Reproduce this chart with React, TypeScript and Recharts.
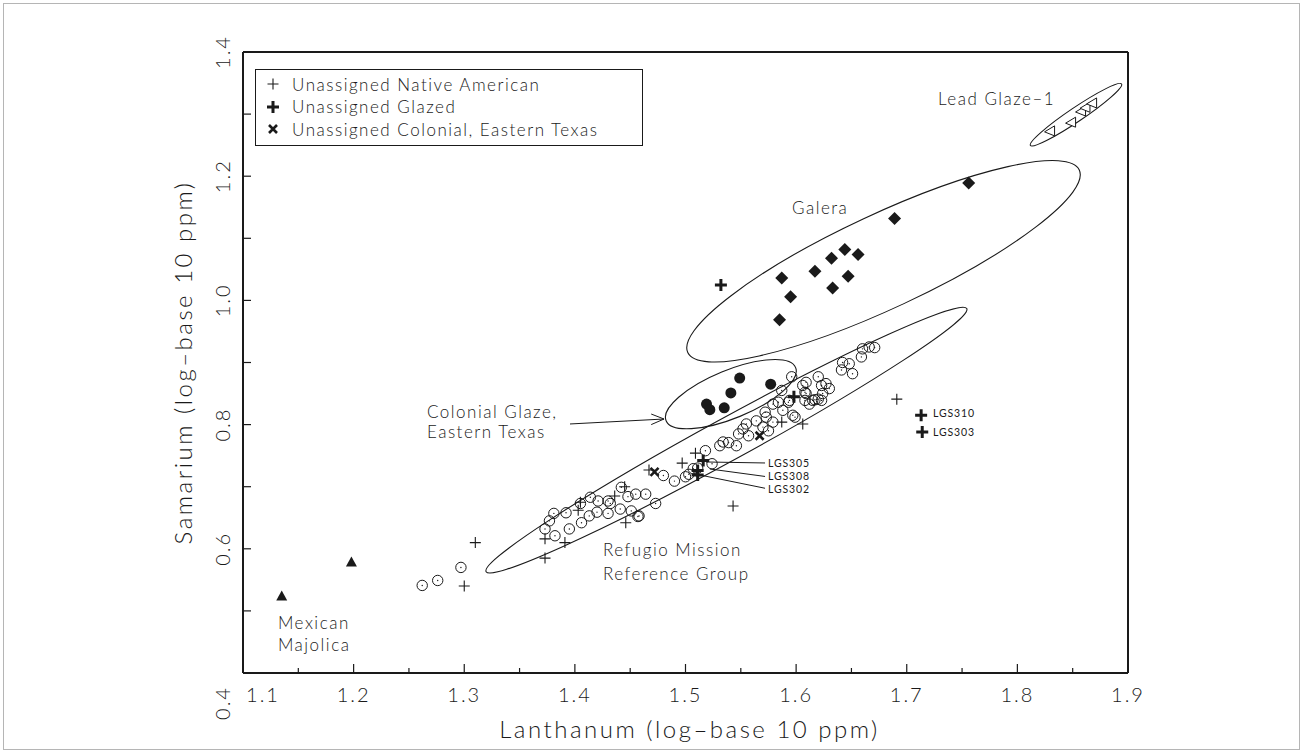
import React from 'react';
import { ScatterChart, Scatter, XAxis, YAxis, ReferenceLine, Legend } from 'recharts';

type Pt = [number, number];

// Lanthanum (x) / Samarium (y), log-base 10 ppm
const refugio: Pt[] = [
  [1.262, 0.541], [1.276, 0.549], [1.297, 0.570],
  [1.381, 0.657], [1.377, 0.645], [1.373, 0.632], [1.382, 0.621], [1.395, 0.632], [1.406, 0.642],
  [1.413, 0.653], [1.405, 0.673], [1.414, 0.683], [1.421, 0.677], [1.420, 0.659], [1.430, 0.657],
  [1.432, 0.673], [1.441, 0.664], [1.451, 0.661], [1.457, 0.652], [1.442, 0.699], [1.455, 0.688],
  [1.464, 0.688], [1.448, 0.684], [1.473, 0.673], [1.480, 0.718], [1.490, 0.709], [1.503, 0.720],
  [1.507, 0.729], [1.518, 0.758], [1.524, 0.737], [1.531, 0.766], [1.539, 0.771], [1.546, 0.766],
  [1.548, 0.785], [1.552, 0.793], [1.557, 0.782], [1.564, 0.806], [1.573, 0.812], [1.575, 0.790],
  [1.572, 0.820], [1.584, 0.836], [1.587, 0.855], [1.588, 0.823], [1.594, 0.839], [1.599, 0.812],
  [1.579, 0.804], [1.534, 0.772], [1.555, 0.801], [1.570, 0.796], [1.579, 0.833], [1.593, 0.836],
  [1.606, 0.863], [1.608, 0.839], [1.615, 0.839], [1.620, 0.841], [1.627, 0.866], [1.609, 0.850],
  [1.624, 0.850], [1.660, 0.922], [1.666, 0.925], [1.671, 0.924], [1.659, 0.909], [1.642, 0.900],
  [1.648, 0.898], [1.641, 0.888], [1.651, 0.882], [1.596, 0.877], [1.609, 0.868], [1.620, 0.877],
  [1.623, 0.863], [1.630, 0.858], [1.608, 0.852], [1.617, 0.840], [1.623, 0.839], [1.612, 0.833],
  [1.597, 0.815], [1.430, 0.677], [1.458, 0.653], [1.392, 0.658], [1.500, 0.716], [1.511, 0.730],
];
const colonialGlaze: Pt[] = [
  [1.519, 0.833], [1.522, 0.824], [1.535, 0.827], [1.541, 0.851], [1.549, 0.875], [1.577, 0.865],
];
const galera: Pt[] = [
  [1.587, 1.036], [1.595, 1.006], [1.585, 0.969], [1.617, 1.047], [1.632, 1.068], [1.644, 1.082],
  [1.656, 1.074], [1.647, 1.039], [1.633, 1.020], [1.689, 1.132], [1.756, 1.189],
];
const majolica: Pt[] = [[1.135, 0.523], [1.198, 0.578]];
const leadGlaze: Pt[] = [[1.830, 1.273], [1.849, 1.287], [1.858, 1.305], [1.862, 1.311], [1.868, 1.318]];
const nativeAmerican: Pt[] = [
  [1.310, 0.610], [1.300, 0.540], [1.373, 0.616], [1.391, 0.610], [1.373, 0.585], [1.403, 0.662],
  [1.405, 0.675], [1.446, 0.642], [1.445, 0.700], [1.467, 0.727], [1.497, 0.738], [1.509, 0.754],
  [1.543, 0.669], [1.587, 0.804], [1.606, 0.801], [1.691, 0.841], [1.436, 0.685],
];
const glazed: Pt[] = [
  [1.532, 1.025], [1.516, 0.742], [1.511, 0.726], [1.511, 0.719], [1.598, 0.845], [1.713, 0.815], [1.714, 0.788],
];
const colonialTexas: Pt[] = [[1.472, 0.724], [1.567, 0.782]];

// group ellipse centres
const ellipseNames = ['Refugio', 'Colonial', 'Galera', 'Lead'];
const ellipseCentres: Pt[] = [[1.537, 0.775], [1.541, 0.849], [1.679, 1.063], [1.853, 1.299]];

const xTicks = [1.1, 1.15, 1.2, 1.25, 1.3, 1.35, 1.4, 1.45, 1.5, 1.55, 1.6, 1.65, 1.7, 1.75, 1.8, 1.85, 1.9];
const yTicks = [0.4, 0.5, 0.6, 0.7, 0.8, 0.9, 1.0, 1.1, 1.2, 1.3, 1.4];

const notes = [
  { x: 1.7283, y: 1.3259, text: 'Lead Glaze–1' },
  { x: 1.5963, y: 1.1504, text: 'Galera' },
  { x: 1.2663, y: 0.8203, text: 'Colonial Glaze,' },
  { x: 1.2663, y: 0.7881, text: 'Eastern Texas' },
  { x: 1.4254, y: 0.5981, text: 'Refugio Mission' },
  { x: 1.4254, y: 0.5610, text: 'Reference Group' },
  { x: 1.1316, y: 0.4821, text: 'Mexican' },
  { x: 1.1316, y: 0.4451, text: 'Majolica' },
];
const sampleNotes = [
  { x: 1.5746, y: 0.7375, text: 'LGS305' },
  { x: 1.5746, y: 0.7165, text: 'LGS308' },
  { x: 1.5746, y: 0.6960, text: 'LGS302' },
  { x: 1.7237, y: 0.8187, text: 'LGS310' },
  { x: 1.7237, y: 0.7881, text: 'LGS303' },
];
const leaders: [Pt, Pt][] = [
  [[1.5185, 0.7398], [1.5719, 0.7382]],
  [[1.5221, 0.7285], [1.5719, 0.7165]],
  [[1.5131, 0.7188], [1.5719, 0.6975]],
  [[1.3956, 0.8010], [1.4806, 0.8090]],
  [[1.4806, 0.8090], [1.4690, 0.8170]],
  [[1.4806, 0.8090], [1.4690, 0.8000]],
];

const FONT = "Lato, 'DejaVu Sans', sans-serif";
const INK = '#1a1a1a';
const ELLIPSE_SIZE: Record<string, { rx: number; ry: number; angle: number }> = {
  Refugio: { rx: 274, ry: 21, angle: -28.7 },
  Colonial: { rx: 70, ry: 24, angle: -22.3 },
  Galera: { rx: 216, ry: 47, angle: -25 },
  Lead: { rx: 55, ry: 7, angle: -34 },
};

const toPts = (a: Pt[]) => a.map(([x, y]) => ({ x, y }));
const isMajor = (v: number) => Math.abs(v * 10 - Math.round(v * 10)) < 1e-6;

const OpenCircle = (p: any) => (
  <g>
    <circle cx={p.cx} cy={p.cy} r={5.2} fill="none" stroke={INK} strokeWidth={1} />
    <circle cx={p.cx} cy={p.cy} r={0.7} fill={INK} />
  </g>
);
const Dot = (p: any) => <circle cx={p.cx} cy={p.cy} r={5.5} fill={INK} />;
const Diamond = (p: any) => (
  <path d={`M${p.cx},${p.cy - 6.5}L${p.cx + 6.5},${p.cy}L${p.cx},${p.cy + 6.5}L${p.cx - 6.5},${p.cy}Z`} fill={INK} />
);
const UpTriangle = (p: any) => (
  <path d={`M${p.cx},${p.cy - 6}L${p.cx + 5.5},${p.cy + 4}L${p.cx - 5.5},${p.cy + 4}Z`} fill={INK} />
);
const LeftTriangle = (p: any) => (
  <path d={`M${p.cx - 6},${p.cy + 1}L${p.cx + 4},${p.cy - 5}L${p.cx + 4},${p.cy + 5}Z`} fill="#fff" stroke={INK} strokeWidth={1} />
);
const Plus = (p: any, arm: number, w: number) => (
  <path d={`M${p.cx - arm},${p.cy}H${p.cx + arm}M${p.cx},${p.cy - arm}V${p.cy + arm}`} stroke={INK} strokeWidth={w} />
);
const ThinPlus = (p: any) => Plus(p, 5.5, 1.1);
const BoldPlus = (p: any) => Plus(p, 6, 3);
const Cross = (p: any) => (
  <path d={`M${p.cx - 4},${p.cy - 4}L${p.cx + 4},${p.cy + 4}M${p.cx + 4},${p.cy - 4}L${p.cx - 4},${p.cy + 4}`} stroke={INK} strokeWidth={2.6} />
);
const EllipseShape = (p: any) => {
  const s = ELLIPSE_SIZE[p.payload.name];
  return (
    <ellipse cx={p.cx} cy={p.cy} rx={s.rx} ry={s.ry} transform={`rotate(${s.angle} ${p.cx} ${p.cy})`}
      fill="none" stroke={INK} strokeWidth={1.1} />
  );
};
const NoteShape = (p: any) => (
  <text x={p.cx} y={p.cy} dominantBaseline="central" fontFamily={FONT} fontWeight={300} fontSize={17}
    letterSpacing={1.5} fill={INK}>{p.payload.text}</text>
);
const SmallNoteShape = (p: any) => (
  <text x={p.cx} y={p.cy} dominantBaseline="central" fontFamily={FONT} fontWeight={400} fontSize={10.5}
    letterSpacing={0.9} fill={INK}>{p.payload.text}</text>
);

const txt = { fontFamily: FONT, fontWeight: 300, fill: INK } as const;

const BottomTick = (p: any) => {
  const v = p.payload.value;
  const major = isMajor(v);
  return (
    <g>
      <line x1={p.x} y1={p.y} x2={p.x} y2={p.y - (major ? 9 : 5)} stroke={INK} strokeWidth={1.2} />
      {major && (
        <text x={p.x + (v === 1.1 ? 20 : 0)} y={p.y + 21} textAnchor="middle" dominantBaseline="central"
          fontSize={20} letterSpacing={2} {...txt}>{v.toFixed(1)}</text>
      )}
    </g>
  );
};
const TopTick = (p: any) => {
  const major = isMajor(p.payload.value);
  return <line x1={p.x} y1={p.y} x2={p.x} y2={p.y + (major ? 9 : 5)} stroke={INK} strokeWidth={1.2} />;
};
const LeftTick = (p: any) => {
  const v = p.payload.value;
  const label = Math.round(v * 10) % 2 === 0;
  const ty = p.y + (v === 0.4 ? 30 : 0);
  return (
    <g>
      <line x1={p.x} y1={p.y} x2={p.x + 8} y2={p.y} stroke={INK} strokeWidth={1.2} />
      {label && (
        <text x={p.x - 21} y={ty} textAnchor="middle" dominantBaseline="central" fontSize={20} letterSpacing={2}
          transform={`rotate(-90 ${p.x - 21} ${ty})`} {...txt}>{v.toFixed(1)}</text>
      )}
    </g>
  );
};
const RightTick = (p: any) => <line x1={p.x} y1={p.y} x2={p.x - 8} y2={p.y} stroke={INK} strokeWidth={1.2} />;

const legendRows = [
  { label: 'Unassigned Native American', shape: ThinPlus },
  { label: 'Unassigned Glazed', shape: BoldPlus },
  { label: 'Unassigned Colonial, Eastern Texas', shape: Cross },
];

const LegendBox = () => (
  <div style={{ width: 386, height: 75, border: `1.5px solid ${INK}`, background: '#fff', position: 'relative' }}>
    {legendRows.map((r, i) => (
      <div key={r.label} style={{ position: 'absolute', left: 10, top: 3 + i * 22.5, height: 22, display: 'flex', alignItems: 'center' }}>
        <svg width={16} height={16}>{r.shape({ cx: 7, cy: 8 })}</svg>
        <span style={{ marginLeft: 10, fontFamily: FONT, fontWeight: 300, fontSize: 17, letterSpacing: 1.5, color: INK, whiteSpace: 'nowrap' }}>
          {r.label}
        </span>
      </div>
    ))}
  </div>
);

export default function App() {
  const ellipseData = ellipseCentres.map(([x, y], i) => ({ x, y, name: ellipseNames[i] }));
  return (
    <div style={{ position: 'relative', width: 1305, height: 755, background: '#fff' }}>
      <style>{'body{margin:0}'}</style>
      <div style={{ position: 'absolute', left: 3, top: 3, width: 1297, height: 747, border: '1px solid #b5b5b5', boxSizing: 'border-box' }} />
      <ScatterChart width={1305} height={755} margin={{ top: 50, right: 175, bottom: 42, left: 183 }}>
        <XAxis xAxisId={0} dataKey="x" type="number" domain={[1.1, 1.9]} ticks={xTicks} interval={0}
          height={40} tickSize={0} tickMargin={0} tick={BottomTick} tickLine={false}
          axisLine={{ stroke: INK, strokeWidth: 2 }}
          label={{ content: (lp: any) => {
            const vb = lp.viewBox;
            return <text x={vb.x + vb.width / 2 + 4} y={vb.y + 55} textAnchor="middle" dominantBaseline="central"
              fontSize={24} letterSpacing={2.5} {...txt}>Lanthanum (log–base 10 ppm)</text>;
          } }} />
        <XAxis xAxisId="top" orientation="top" dataKey="x" type="number" domain={[1.1, 1.9]} ticks={xTicks} interval={0}
          height={2} tickSize={0} tickMargin={0} tick={TopTick} tickLine={false} axisLine={{ stroke: INK, strokeWidth: 2 }} />
        <YAxis yAxisId={0} dataKey="y" type="number" domain={[0.4, 1.4]} ticks={yTicks} interval={0}
          width={60} tickSize={0} tickMargin={0} tick={LeftTick} tickLine={false}
          axisLine={{ stroke: INK, strokeWidth: 2 }}
          label={{ content: (lp: any) => {
            const vb = lp.viewBox;
            const cx = vb.x + vb.width - 61;
            const cy = vb.y + vb.height / 2;
            return <text x={cx} y={cy} textAnchor="middle" dominantBaseline="central" fontSize={24} letterSpacing={2.5}
              transform={`rotate(-90 ${cx} ${cy})`} {...txt}>Samarium (log–base 10 ppm)</text>;
          } }} />
        <YAxis yAxisId="right" orientation="right" dataKey="y" type="number" domain={[0.4, 1.4]} ticks={yTicks} interval={0}
          width={2} tickSize={0} tickMargin={0} tick={RightTick} tickLine={false} axisLine={{ stroke: INK, strokeWidth: 2 }} />

        <Legend layout="horizontal" verticalAlign="middle" align="center" content={LegendBox}
          wrapperStyle={{ left: 255, top: 69, width: 390, height: 78 }} />

        <Scatter data={ellipseData} shape={EllipseShape} isAnimationActive={false} legendType="none" />
        {leaders.map((seg, i) => (
          <ReferenceLine key={i} segment={[{ x: seg[0][0], y: seg[0][1] }, { x: seg[1][0], y: seg[1][1] }]}
            stroke={INK} strokeWidth={1} />
        ))}
        <Scatter data={toPts(refugio)} shape={OpenCircle} isAnimationActive={false} legendType="none" />
        <Scatter data={toPts(colonialGlaze)} shape={Dot} isAnimationActive={false} legendType="none" />
        <Scatter data={toPts(galera)} shape={Diamond} isAnimationActive={false} legendType="none" />
        <Scatter data={toPts(majolica)} shape={UpTriangle} isAnimationActive={false} legendType="none" />
        <Scatter data={toPts(leadGlaze)} shape={LeftTriangle} isAnimationActive={false} legendType="none" />
        <Scatter data={toPts(nativeAmerican)} shape={ThinPlus} isAnimationActive={false} legendType="none" />
        <Scatter data={toPts(glazed)} shape={BoldPlus} isAnimationActive={false} legendType="none" />
        <Scatter data={toPts(colonialTexas)} shape={Cross} isAnimationActive={false} legendType="none" />
        <Scatter data={notes} shape={NoteShape} isAnimationActive={false} legendType="none" />
        <Scatter data={sampleNotes} shape={SmallNoteShape} isAnimationActive={false} legendType="none" />
      </ScatterChart>
    </div>
  );
}
